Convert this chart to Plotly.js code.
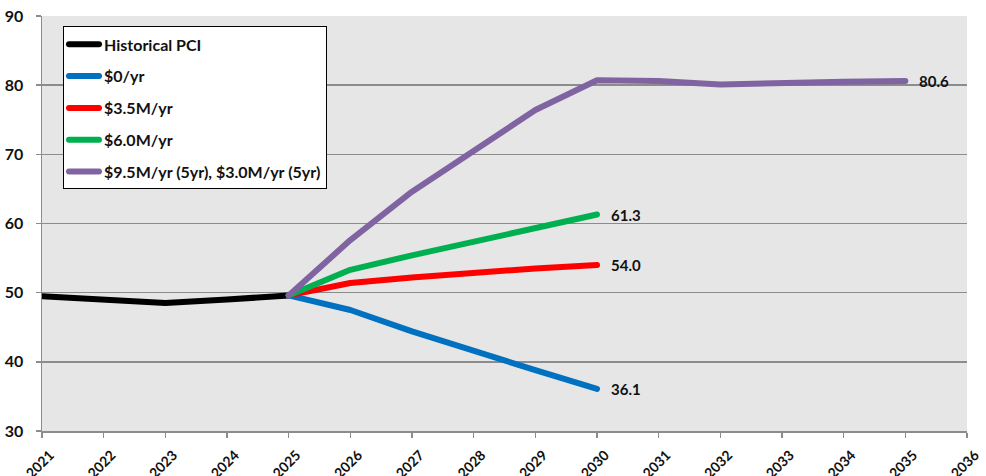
<!DOCTYPE html>
<html>
<head>
<meta charset="utf-8">
<script src="https://cdn.plot.ly/plotly-3.0.1.min.js"></script>
<style>
html,body{margin:0;padding:0;background:#fff;}
#chart{width:986px;height:476px;}
.scatterlayer .js-line, .legendlines path{stroke-linecap:round;stroke-linejoin:round;}
</style>
</head>
<body>
<div id="chart"></div>
<script>
// Data
const histYears = [2021, 2022, 2023, 2024, 2025];
const histPCI = [49.5, 49.0, 48.5, 49.0, 49.6];

const projYears5 = [2025, 2026, 2027, 2028, 2029, 2030];
const zeroPerYr = [49.6, 47.5, 44.4, 41.5, 38.8, 36.1];
const m35PerYr = [49.6, 51.4, 52.2, 52.9, 53.5, 54.0];
const m60PerYr = [49.6, 53.3, 55.4, 57.4, 59.3, 61.3];

const projYears10 = [2025, 2026, 2027, 2028, 2029, 2030, 2031, 2032, 2033, 2034, 2035];
const m95PerYr = [49.6, 57.6, 64.6, 70.6, 76.4, 80.7, 80.6, 80.1, 80.4, 80.5, 80.6];

const seriesNames = ['Historical PCI', '$0/yr', '$3.5M/yr', '$6.0M/yr', '$9.5M/yr (5yr), $3.0M/yr (5yr)'];
const seriesColors = ['#000000', '#0070C0', '#FF0000', '#00B050', '#8064A2'];
const xTicks = [2021, 2022, 2023, 2024, 2025, 2026, 2027, 2028, 2029, 2030, 2031, 2032, 2033, 2034, 2035, 2036];
const yTicks = [30, 40, 50, 60, 70, 80, 90];

const seriesX = [histYears, projYears5, projYears5, projYears5, projYears10];
const seriesY = [histPCI, zeroPerYr, m35PerYr, m60PerYr, m95PerYr];
const labelled = [false, true, true, true, true];

const FONT = 'Lato, "Open Sans", sans-serif';

const traces = seriesNames.map((name, i) => ({
  x: seriesX[i], y: seriesY[i], name: name, type: 'scatter', mode: 'lines',
  legendgroup: 'g' + i,
  line: {color: seriesColors[i], width: 6},
  hoverinfo: 'x+y'
}));

const annotations = [];
seriesNames.forEach((name, i) => {
  if (!labelled[i]) return;
  const xs = seriesX[i], ys = seriesY[i];
  const n = xs.length - 1;
  annotations.push({
    x: xs[n], y: ys[n], xref: 'x', yref: 'y',
    text: ys[n].toFixed(1), showarrow: false,
    xanchor: 'left', yanchor: 'middle', xshift: 12,
    font: {family: FONT, size: 15, color: '#111111', weight: 'bold'}
  });
});

const layout = {
  width: 986, height: 476,
  margin: {l: 42, r: 19, t: 16, b: 45},
  paper_bgcolor: '#ffffff',
  plot_bgcolor: '#e6e6e6',
  showlegend: true,
  legend: {
    x: 0.0227, y: 0.975, xanchor: 'left', yanchor: 'top',
    bgcolor: '#ffffff', bordercolor: '#000000', borderwidth: 1,
    font: {family: FONT, size: 16, color: '#111111', weight: 'bold'},
    tracegroupgap: 8
  },
  xaxis: {
    range: [2021, 2036], tickvals: xTicks, ticktext: xTicks.map(String),
    tickangle: -45, showgrid: false, zeroline: false,
    showline: true, linecolor: '#8c8c8c', linewidth: 1.5,
    ticks: 'outside', ticklen: 5, tickcolor: '#8c8c8c', tickwidth: 1.5,
    ticklabelstandoff: 4, ticklabelshift: 8,
    tickfont: {family: FONT, size: 14, color: '#111111', weight: 'bold'}
  },
  yaxis: {
    range: [30, 90], tickvals: yTicks, ticktext: yTicks.map(String),
    showgrid: true, gridcolor: '#8c8c8c', gridwidth: 1.5, zeroline: false,
    showline: true, linecolor: '#8c8c8c', linewidth: 1.5,
    ticks: 'outside', ticklen: 5, tickcolor: '#8c8c8c', tickwidth: 1.5,
    ticklabelstandoff: 9,
    tickfont: {family: FONT, size: 16, color: '#111111', weight: 'bold'}
  },
  annotations: annotations
};

Plotly.newPlot('chart', traces, layout, {displayModeBar: false, staticPlot: true});
</script>
</body>
</html>
